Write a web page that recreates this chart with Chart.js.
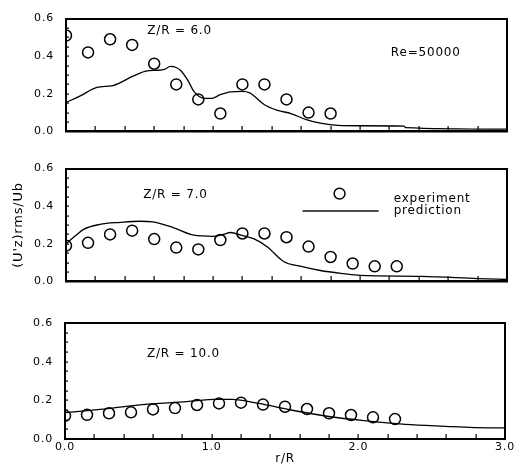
<!DOCTYPE html>
<html>
<head>
<meta charset="utf-8">
<script src="https://cdn.jsdelivr.net/npm/chart.js@4.4.1/dist/chart.umd.min.js"></script>
<style>
  html, body { margin: 0; padding: 0; background: #fff; }
  #wrap { position: relative; width: 526px; height: 466px; }
  canvas { position: absolute; left: 0; }
</style>
</head>
<body>
<div id="wrap">
  <canvas id="c1" width="526" height="150" style="top:0px"></canvas>
  <canvas id="c2" width="526" height="150" style="top:150px"></canvas>
  <canvas id="c3" width="526" height="166" style="top:300px"></canvas>
</div>
<script>
// ---------- data ----------
const expR6 = [0, 0.15, 0.30, 0.45, 0.60, 0.75, 0.90, 1.05, 1.20, 1.35, 1.50, 1.65, 1.80];
const expV6 = [0.51, 0.42, 0.49, 0.46, 0.36, 0.25, 0.17, 0.095, 0.25, 0.25, 0.17, 0.10, 0.095];
const predR6 = [0, 0.10, 0.21, 0.32, 0.46, 0.55, 0.62, 0.67, 0.71, 0.75, 0.78, 0.83, 0.87, 0.94, 0.99, 1.05, 1.12, 1.20, 1.25, 1.28, 1.35, 1.44, 1.53, 1.64, 1.73, 1.85, 2.00, 2.30, 2.31, 3.00];
const predV6 = [0.154, 0.19, 0.234, 0.244, 0.295, 0.322, 0.325, 0.33, 0.346, 0.34, 0.324, 0.27, 0.213, 0.176, 0.176, 0.195, 0.21, 0.213, 0.205, 0.188, 0.142, 0.112, 0.095, 0.061, 0.044, 0.032, 0.03, 0.028, 0.02, 0.012];

const expR7 = [0, 0.15, 0.30, 0.45, 0.60, 0.75, 0.90, 1.05, 1.20, 1.35, 1.50, 1.65, 1.80, 1.95, 2.10, 2.25];
const expV7 = [0.19, 0.205, 0.25, 0.27, 0.225, 0.18, 0.17, 0.22, 0.255, 0.255, 0.235, 0.185, 0.13, 0.095, 0.08, 0.08];
const predR7 = [0, 0.06, 0.12, 0.23, 0.37, 0.50, 0.59, 0.73, 0.87, 1.00, 1.07, 1.12, 1.19, 1.28, 1.37, 1.48, 1.60, 1.73, 1.89, 2.00, 2.42, 2.80, 3.00];
const predV7 = [0.2, 0.24, 0.277, 0.303, 0.314, 0.32, 0.317, 0.286, 0.246, 0.24, 0.25, 0.26, 0.246, 0.226, 0.183, 0.106, 0.08, 0.058, 0.041, 0.032, 0.027, 0.015, 0.01];

const expR10 = [0, 0.15, 0.30, 0.45, 0.60, 0.75, 0.90, 1.05, 1.20, 1.35, 1.50, 1.65, 1.80, 1.95, 2.10, 2.25];
const expV10 = [0.12, 0.125, 0.133, 0.138, 0.153, 0.16, 0.176, 0.184, 0.188, 0.178, 0.167, 0.155, 0.133, 0.124, 0.112, 0.103];
const predR10 = [0, 0.24, 0.51, 0.83, 1.03, 1.14, 1.32, 1.54, 1.81, 2.04, 2.32, 2.56, 2.90, 3.00];
const predV10 = [0.136, 0.153, 0.176, 0.193, 0.205, 0.205, 0.184, 0.15, 0.115, 0.095, 0.076, 0.067, 0.058, 0.058];

const yTicks = [0, 0.2, 0.4, 0.6];
const xTickLabels = [0, 1, 2, 3];
const panelLabels = ["Z/R = 6.0", "Z/R = 7.0", "Z/R = 10.0"];
const reLabel = "Re=50000";
const legendLabels = ["experiment", "prediction"];
const yTitle = "(U'z)rms/Ub";
const xTitle = "r/R";

// ---------- helpers ----------
const FONT = "'DejaVu Sans', sans-serif";
function pts(xs, ys) { return xs.map((x, i) => ({ x: x, y: ys[i] })); }

const framePlugin = {
  id: 'frame',
  beforeDraw(chart) {
    chart.ctx.letterSpacing = '0.8px';
  },
  afterDraw(chart) {
    const opts = chart.options.plugins.frame || {};
    const ctx = chart.ctx, a = chart.chartArea;
    const xs = chart.scales.x, ys = chart.scales.y;
    const L0 = Math.round(a.left), R0 = Math.round(a.right);
    const T0 = Math.round(a.top), B0 = Math.round(a.bottom);
    ctx.save();
    ctx.globalAlpha = 1;
    ctx.globalCompositeOperation = 'source-over';
    ctx.fillStyle = '#000000';
    // frame as filled bars
    ctx.fillRect(L0 - 1, T0 - 1, R0 - L0 + 2, 2);
    ctx.fillRect(L0 - 1, B0 - 1, R0 - L0 + 2, 2);
    ctx.fillRect(L0 - 1, T0 - 1, 2, B0 - T0 + 2);
    ctx.fillRect(R0 - 1, T0 - 1, 2, B0 - T0 + 2);
    // inward ticks
    for (let k = 1; k < 15; k++) {
      const px = Math.round(xs.getPixelForValue(k * 0.2));
      ctx.fillRect(px - 0.5, B0 - 5, 1.2, 5);
    }
    for (let k = 1; k < 12; k++) {
      const py = Math.round(ys.getPixelForValue(k * 0.05));
      ctx.fillRect(L0, py - 0.5, 3, 1.2);
    }
    // texts
    ctx.textBaseline = 'alphabetic';
    ctx.textAlign = 'left';
    ctx.font = '12px ' + FONT;
    ctx.letterSpacing = '0.8px';
    (opts.texts || []).forEach(t => {
      ctx.fillText(t.text, xs.getPixelForValue(t.x), ys.getPixelForValue(t.y));
    });
    if (opts.legend) {
      const L = opts.legend;
      const cx = xs.getPixelForValue(L.cx), cy = ys.getPixelForValue(L.cy);
      ctx.beginPath();
      ctx.arc(cx, cy, 6.2, 0, Math.PI * 2, false);
      ctx.arc(cx, cy, 4.7, 0, Math.PI * 2, true);
      ctx.fill('evenodd');
      const ly = Math.round(ys.getPixelForValue(L.ly));
      const lx0 = xs.getPixelForValue(L.lx0), lx1 = xs.getPixelForValue(L.lx1);
      ctx.fillRect(lx0, ly - 0.7, lx1 - lx0, 1.4);
      ctx.fillText(legendLabels[0], xs.getPixelForValue(L.tx), ys.getPixelForValue(L.ty0));
      ctx.fillText(legendLabels[1], xs.getPixelForValue(L.tx), ys.getPixelForValue(L.ty1));
    }
    ctx.restore();
  }
};

const edgeAxis = (pos, isX) => ({
  type: 'linear', position: pos, min: 0, max: isX ? 3 : 0.6,
  grid: { display: false, drawTicks: false },
  border: { display: true, color: '#000', width: 1.5 },
  ticks: { display: false },
  afterFit: (s) => { if (isX) { s.height = 0; } else { s.width = 0; } }
});

function makeChart(id, expR, expV, predR, predV, cfg) {
  return new Chart(document.getElementById(id), {
    type: 'scatter',
    data: {
      datasets: [
        {
          label: 'prediction',
          data: pts(predR, predV),
          showLine: true,
          borderColor: '#000',
          borderWidth: 1.3,
          pointRadius: 0,
          cubicInterpolationMode: 'monotone',
          fill: false,
          xAxisID: 'x', yAxisID: 'y'
        },
        {
          label: 'experiment',
          data: pts(expR, expV),
          showLine: false,
          pointStyle: 'circle',
          pointRadius: 5.5,
          pointBorderWidth: 1.5,
          borderColor: '#000',
          backgroundColor: 'rgba(0,0,0,0)',
          xAxisID: 'x', yAxisID: 'y'
        }
      ]
    },
    options: {
      responsive: false,
      animation: false,
      devicePixelRatio: 1,
      layout: { padding: { top: cfg.top, right: cfg.right, left: 0, bottom: 0 } },
      plugins: {
        legend: { display: false },
        tooltip: { enabled: false },
        frame: { texts: cfg.texts, legend: cfg.legend }
      },
      scales: {
        x: {
          type: 'linear', min: 0, max: 3, position: 'bottom',
          grid: { display: false, drawTicks: false },
          border: { display: true, color: '#000', width: 1.5 },
          afterBuildTicks: (s) => { s.ticks = xTickLabels.map(v => ({ value: v })); },
          ticks: {
            display: cfg.xLabels,
            padding: 2,
            color: '#000',
            font: { family: FONT, size: 11 },
            callback: (v) => Number(v).toFixed(1)
          },
          title: {
            display: cfg.xLabels, text: xTitle, color: '#000',
            font: { family: FONT, size: 12 },
            padding: { top: 0, bottom: 0 }
          },
          afterFit: (s) => { s.height = cfg.xh; }
        },
        y: {
          type: 'linear', min: 0, max: 0.6, position: 'left',
          grid: { display: false, drawTicks: false },
          border: { display: true, color: '#000', width: 1.5 },
          afterBuildTicks: (s) => { s.ticks = yTicks.map(v => ({ value: v })); },
          ticks: {
            padding: 12,
            color: '#000',
            font: { family: FONT, size: 11 },
            callback: (v) => Number(v).toFixed(1)
          },
          title: {
            display: cfg.yTitle, text: yTitle, color: '#000',
            font: { family: FONT, size: 13 },
            padding: { top: 11, bottom: 0 }
          },
          afterFit: (s) => { s.width = cfg.left; }
        },
        x2: edgeAxis('top', true),
        y2: edgeAxis('right', false)
      }
    },
    plugins: [framePlugin]
  });
}

makeChart('c1', expR6, expV6, predR6, predV6, {
  top: 14, right: 19, left: 66, xh: 18, xLabels: false, yTitle: false,
  texts: [
    { text: panelLabels[0], x: 0.553, y: 0.519 },
    { text: reLabel, x: 2.21, y: 0.40 }
  ]
});
makeChart('c2', expR7, expV7, predR7, predV7, {
  top: 17, right: 19, left: 66, xh: 16, xLabels: false, yTitle: true,
  texts: [
    { text: panelLabels[1], x: 0.525, y: 0.441 }
  ],
  legend: { cx: 1.861, cy: 0.467, lx0: 1.609, lx1: 2.127, ly: 0.374, tx: 2.229, ty0: 0.421, ty1: 0.359 }
});
makeChart('c3', expR10, expV10, predR10, predV10, {
  top: 23, right: 21, left: 65, xh: 27, xLabels: true, yTitle: false,
  texts: [
    { text: panelLabels[2], x: 0.559, y: 0.424 }
  ]
});
</script>
</body>
</html>
